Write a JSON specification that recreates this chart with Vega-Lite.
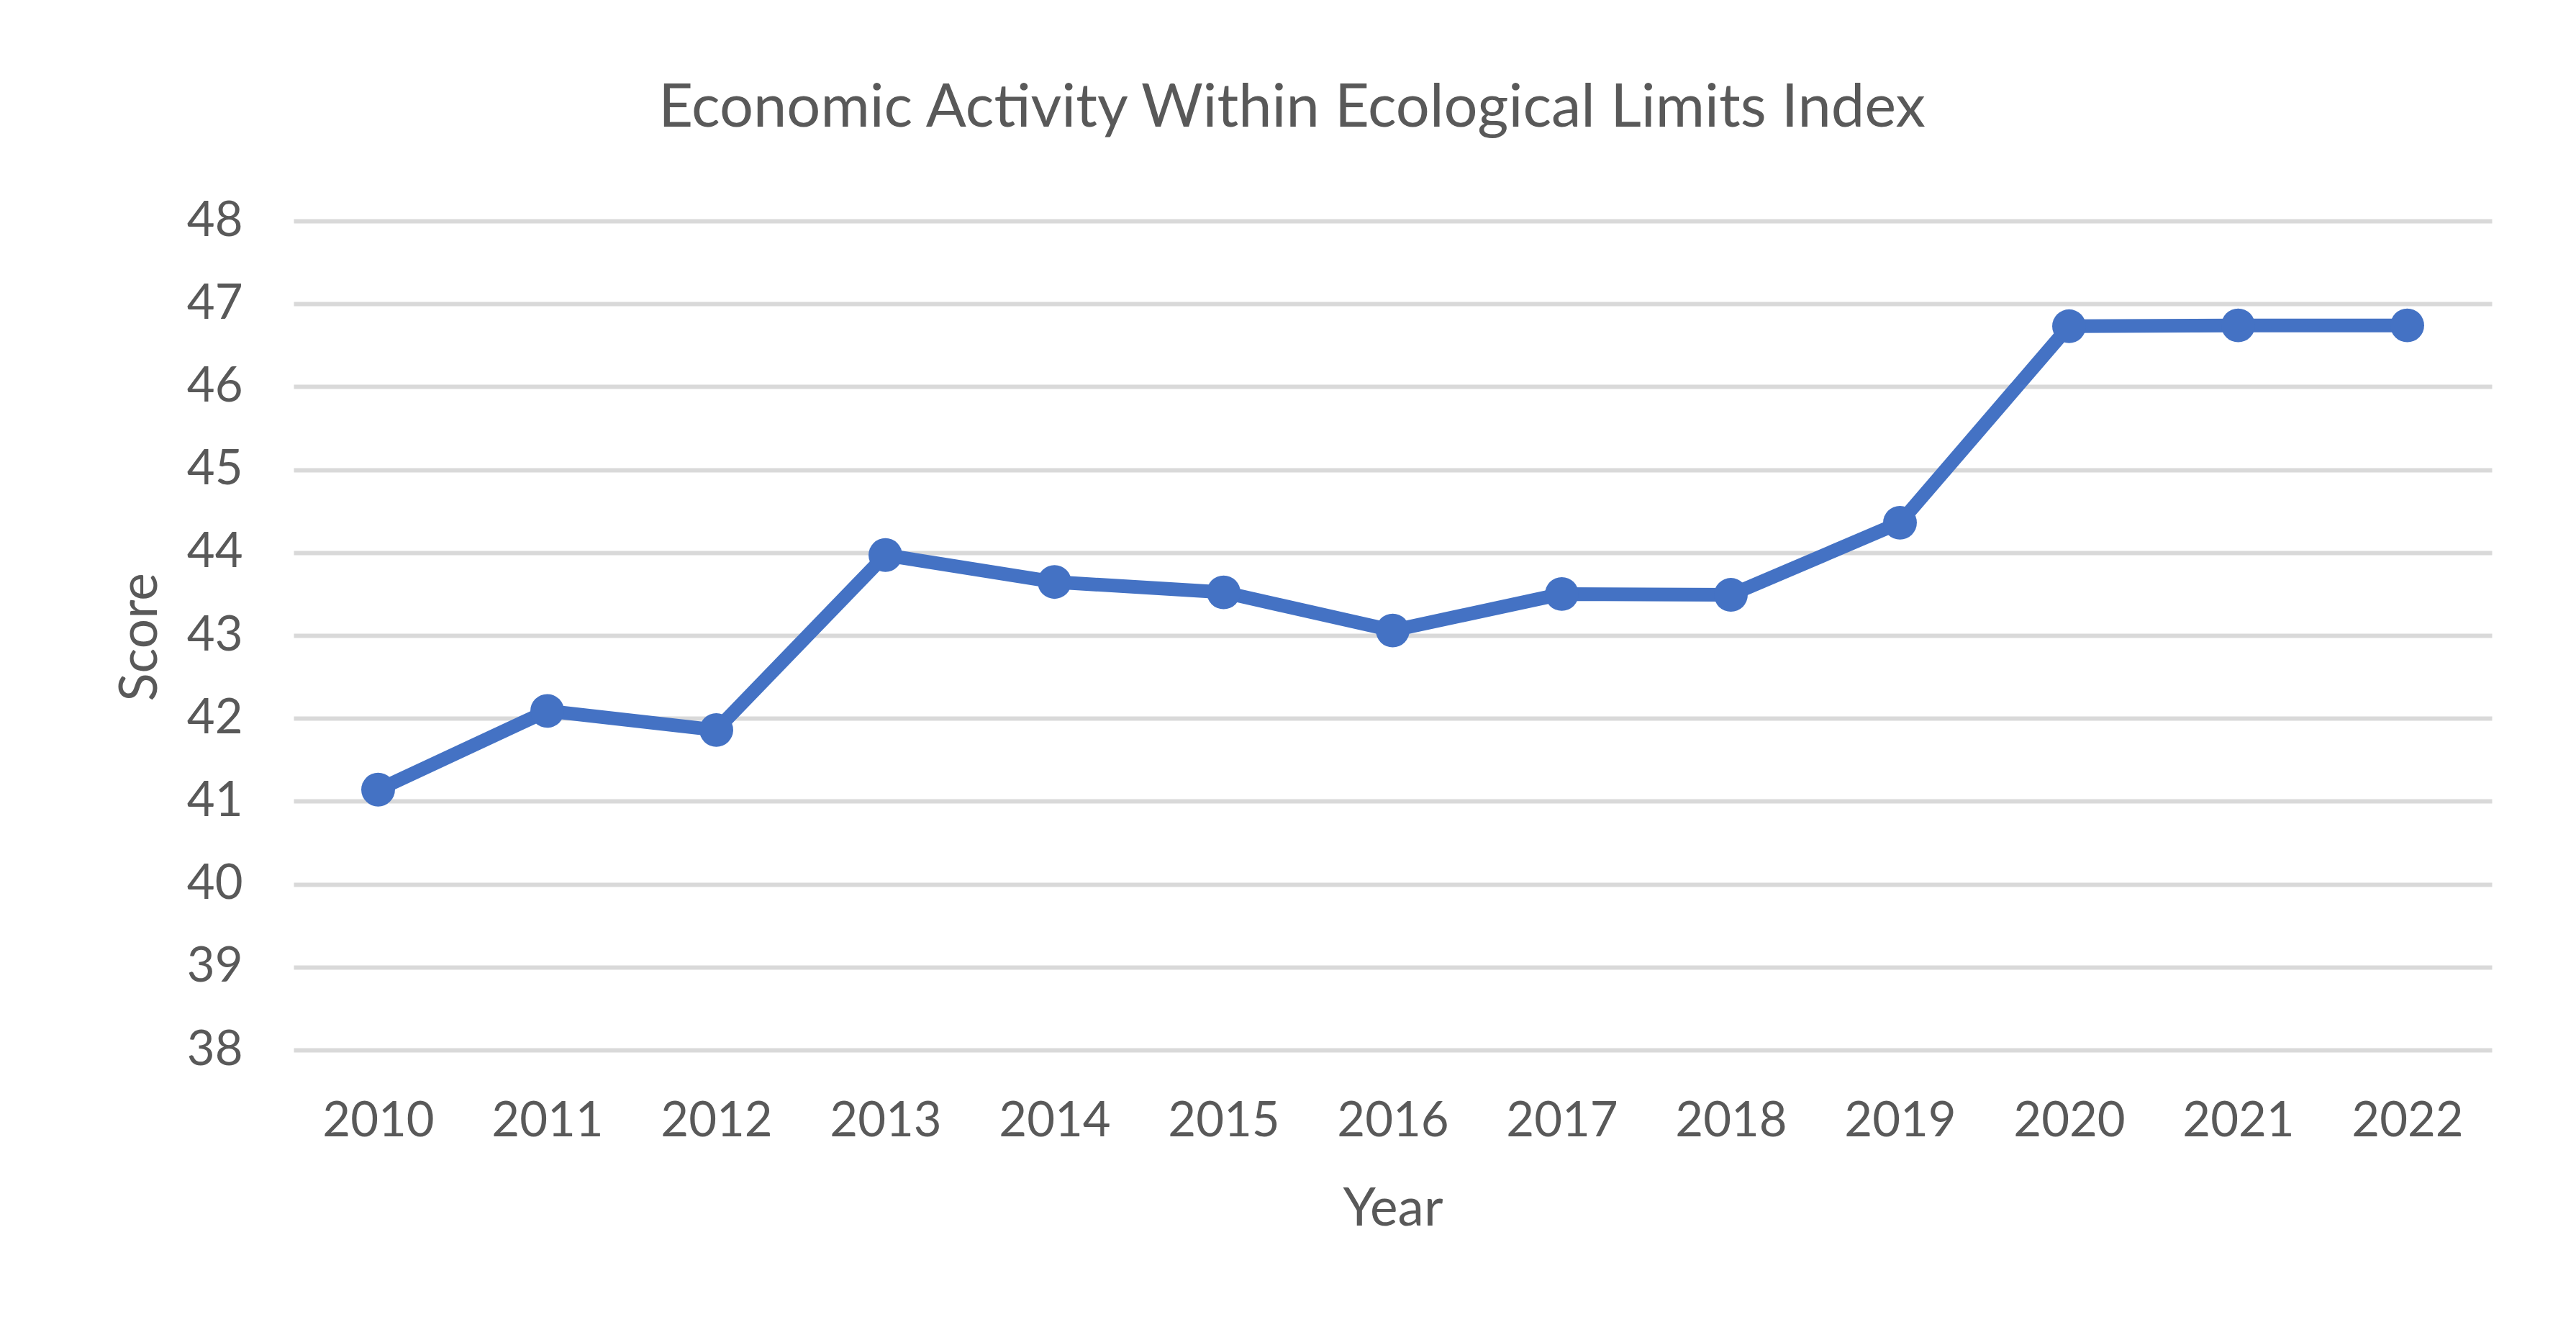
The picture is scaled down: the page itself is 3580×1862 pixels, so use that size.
{
  "$schema": "https://vega.github.io/schema/vega-lite/v6.json",
  "autosize": {"type": "none"},
  "width": 3055,
  "height": 1152,
  "padding": {"left": 408, "top": 307, "right": 117, "bottom": 403},
  "background": "white",
  "title": {
    "text": "Economic Activity Within Ecological Limits Index",
    "font": "Lato",
    "fontSize": 83,
    "fontWeight": "normal",
    "color": "#595959",
    "anchor": "middle",
    "frame": "group",
    "baseline": "alphabetic",
    "dx": -140,
    "offset": 14
  },
  "data": {
    "values": [
      {"Year": "2010", "Score": 41.14},
      {"Year": "2011", "Score": 42.09},
      {"Year": "2012", "Score": 41.86},
      {"Year": "2013", "Score": 43.97},
      {"Year": "2014", "Score": 43.645},
      {"Year": "2015", "Score": 43.52},
      {"Year": "2016", "Score": 43.06},
      {"Year": "2017", "Score": 43.50},
      {"Year": "2018", "Score": 43.49},
      {"Year": "2019", "Score": 44.36},
      {"Year": "2020", "Score": 46.73},
      {"Year": "2021", "Score": 46.74},
      {"Year": "2022", "Score": 46.74}
    ]
  },
  "mark": {
    "type": "line",
    "color": "#4472C4",
    "strokeWidth": 19,
    "strokeJoin": "round",
    "strokeCap": "round",
    "point": {"filled": true, "size": 2200, "color": "#4472C4", "opacity": 1}
  },
  "encoding": {
    "x": {
      "field": "Year",
      "type": "ordinal",
      "title": "Year",
      "axis": {
        "labelAngle": 0,
        "labelBaseline": "alphabetic",
        "labelPadding": 119,
        "ticks": false,
        "tickSize": 0,
        "domain": false,
        "grid": false,
        "labelFont": "Lato",
        "labelFontSize": 67,
        "labelColor": "#595959",
        "titleFont": "Lato",
        "titleFontSize": 73,
        "titleFontWeight": "normal",
        "titleColor": "#595959",
        "titleBaseline": "alphabetic",
        "titleY": 243
      }
    },
    "y": {
      "field": "Score",
      "type": "quantitative",
      "title": "Score",
      "scale": {"domain": [38, 48], "nice": false, "zero": false},
      "axis": {
        "values": [38, 39, 40, 41, 42, 43, 44, 45, 46, 47, 48],
        "labelPadding": 71,
        "ticks": false,
        "tickSize": 0,
        "domain": false,
        "grid": true,
        "gridColor": "#D9D9D9",
        "gridWidth": 6,
        "labelFont": "Lato",
        "labelFontSize": 67,
        "labelColor": "#595959",
        "titleFont": "Lato",
        "titleFontSize": 73,
        "titleFontWeight": "normal",
        "titleColor": "#595959",
        "titleAngle": -90,
        "titleAlign": "center",
        "titleBaseline": "alphabetic",
        "titleX": -191,
        "titleY": 578
      }
    }
  },
  "config": {
    "view": {"stroke": null}
  }
}
